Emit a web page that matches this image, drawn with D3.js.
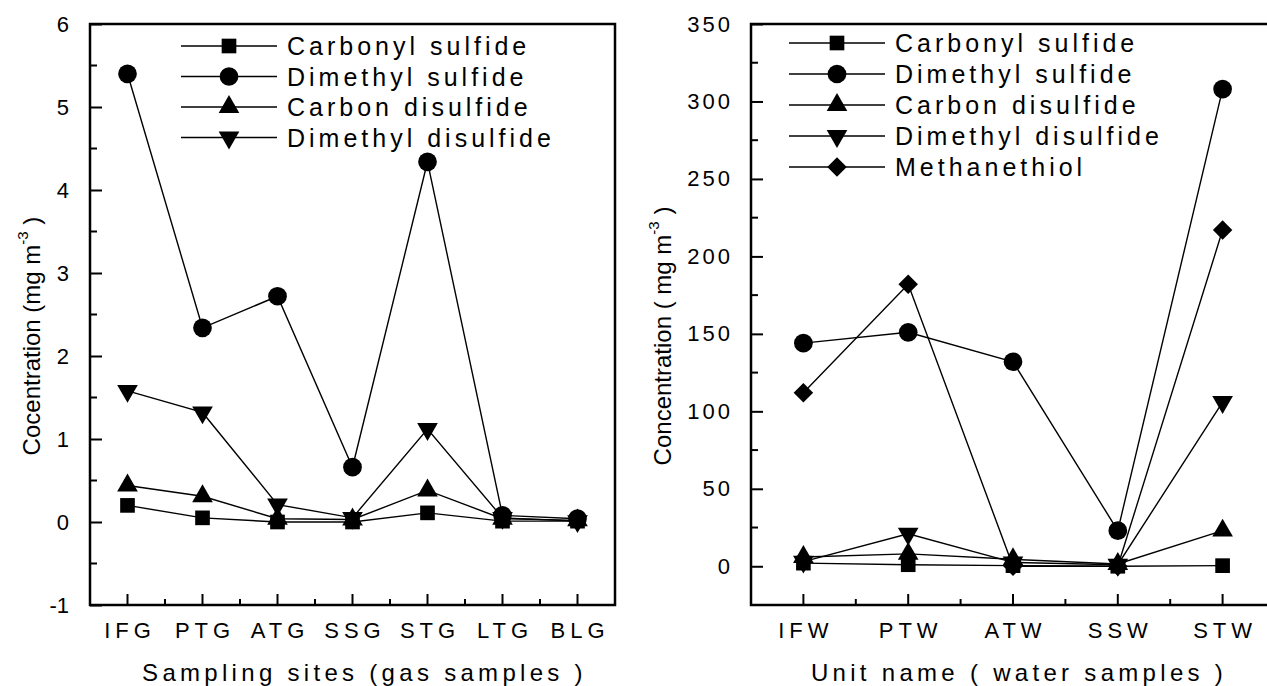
<!DOCTYPE html>
<html>
<head>
<meta charset="utf-8">
<script src="https://cdn.jsdelivr.net/npm/d3@7"></script>
<style>
  body { margin: 0; background: #fff; }
  svg { display: block; }
  text { font-family: "Liberation Sans", Arial, sans-serif; fill: #000; }
</style>
</head>
<body>
<script>
// gas samples (left panel)
const gasSites = ["IFG", "PTG", "ATG", "SSG", "STG", "LTG", "BLG"];
const gasCOS  = [0.20, 0.05, 0.00, 0.00, 0.11, 0.01, 0.01];
const gasDMS  = [5.40, 2.34, 2.72, 0.66, 4.34, 0.08, 0.04];
const gasCS2  = [0.44, 0.31, 0.04, 0.03, 0.38, 0.04, 0.02];
const gasDMDS = [1.58, 1.32, 0.21, 0.05, 1.12, 0.05, 0.01];
const gasTicks = [-1, 0, 1, 2, 3, 4, 5, 6];

// water samples (right panel)
const waterUnits = ["IFW", "PTW", "ATW", "SSW", "STW"];
const waterCOS  = [2, 1, 0.4, 0, 0.4];
const waterDMS  = [144, 151, 132, 23, 308];
const waterCS2  = [6, 8, 4.5, 1.5, 23];
const waterDMDS = [3, 21, 2.5, 1, 106];
const waterMT   = [112, 182, 0, 0, 217];
const waterTicks = [0, 50, 100, 150, 200, 250, 300, 350];

const W = 1267, H = 686;
const svg = d3.select("body").append("svg")
    .attr("width", W)
    .attr("height", H);

const shapes = {
    square:   { type: d3.symbolSquare, size: 215, rot: 0 },
    circle:   { type: d3.symbolCircle, size: 275, rot: 0 },
    up:       { type: d3.symbolTriangle, size: 185, rot: 0 },
    down:     { type: d3.symbolTriangle, size: 185, rot: 180 },
    diamond:  { type: d3.symbolSquare, size: 190, rot: 45 }
}

function marker(g, shape, x, y) {
    const s = shapes[shape]
    g.append("path")
        .attr("d", d3.symbol().type(s.type).size(s.size)())
        .attr("transform", `translate(${x},${y}) rotate(${s.rot})`)
        .attr("fill", "#000");
}

function drawPanel(p) {
    const x = d3.scaleBand().domain(p.cats).range([p.left, p.right]).paddingInner(0).paddingOuter(0);
    const y = d3.scaleLinear().domain(p.yDomain).range([p.bottom, p.top]);
    const cx = c => x(c) + x.bandwidth() / 2;

    const g = svg.append("g");

    // minor ticks
    const yMinor = d3.range(p.yDomain[0], p.yDomain[1], p.minorStep).filter(v => !p.ticks.includes(v));
    g.selectAll(".ymin").data(yMinor).join("line")
        .attr("x1", p.left).attr("x2", p.left + 7)
        .attr("y1", d => y(d)).attr("y2", d => y(d))
        .attr("stroke", "#000").attr("stroke-width", 2);
    g.selectAll(".xmin").data(p.cats.slice(1)).join("line")
        .attr("x1", d => x(d)).attr("x2", d => x(d))
        .attr("y1", p.bottom).attr("y2", p.bottom - 6)
        .attr("stroke", "#000").attr("stroke-width", 2);

    // y axis
    const yAxis = d3.axisLeft(y).tickValues(p.ticks).tickSize(-12).tickPadding(21).tickFormat(d => String(d));
    const ya = g.append("g").attr("transform", `translate(${p.left},0)`).call(yAxis);
    ya.select(".domain").remove();
    ya.selectAll(".tick line").attr("stroke-width", 2);
    ya.selectAll(".tick text").style("font-size", "22px").style("letter-spacing", p.yLs + "px")
        .attr("dx", p.yLs + "px");

    // x axis
    const xAxis = d3.axisBottom(x).tickSize(-11).tickPadding(0);
    const xa = g.append("g").attr("transform", `translate(0,${p.bottom})`).call(xAxis);
    xa.select(".domain").remove();
    xa.selectAll(".tick line").attr("stroke-width", 2);
    xa.selectAll(".tick text").attr("y", 0).attr("dy", 0)
        .attr("transform", "translate(0,33)")
        .style("font-size", "22px").style("letter-spacing", "5px").attr("dx", "2.5px");

    // frame
    g.append("rect")
        .attr("x", p.left).attr("y", p.top)
        .attr("width", p.right - p.left).attr("height", p.bottom - p.top)
        .attr("fill", "none").attr("stroke", "#000").attr("stroke-width", 2.5);

    // series lines then markers
    const line = d3.line().x((d, i) => cx(p.cats[i])).y(d => y(d));
    p.series.forEach(s => {
        g.append("path").datum(s.values)
            .attr("d", line)
            .attr("fill", "none").attr("stroke", "#000").attr("stroke-width", 1.4);
    });
    p.series.forEach(s => {
        s.values.forEach((v, i) => marker(g, s.shape, cx(p.cats[i]), y(v)));
    });

    // legend
    p.series.forEach((s, i) => {
        const ly = p.legend.y + i * p.legend.dy;
        g.append("line")
            .attr("x1", p.legend.x).attr("x2", p.legend.x + 96)
            .attr("y1", ly).attr("y2", ly)
            .attr("stroke", "#000").attr("stroke-width", 1.4);
        marker(g, s.shape, p.legend.x + 48, ly);
        g.append("text")
            .attr("x", p.legend.x + 106).attr("y", ly + 9)
            .style("font-size", "25px").style("letter-spacing", "4px")
            .text(s.name);
    });

    // x title
    g.append("text")
        .attr("x", (p.left + p.right) / 2 + p.xTitleShift).attr("y", 681)
        .attr("text-anchor", "middle")
        .style("font-size", "24px").style("letter-spacing", "4.3px")
        .text(p.xTitle);

    // y title
    const yt = g.append("text")
        .attr("transform", `translate(${p.yTitleX},336) rotate(-90)`)
        .attr("text-anchor", "middle")
        .style("font-size", "24px");
    yt.append("tspan").text(p.yTitle[0]);
    yt.append("tspan").attr("dy", -12).style("font-size", "15px").text("-3");
    yt.append("tspan").attr("dy", 12).text(p.yTitle[1]);
}

drawPanel({
    cats: gasSites, left: 90, right: 615, top: 24, bottom: 605,
    yDomain: [-1, 6], ticks: gasTicks, minorStep: 0.5, yLs: 0,
    series: [
        { name: "Carbonyl sulfide", shape: "square", values: gasCOS },
        { name: "Dimethyl sulfide", shape: "circle", values: gasDMS },
        { name: "Carbon disulfide", shape: "up", values: gasCS2 },
        { name: "Dimethyl disulfide", shape: "down", values: gasDMDS }
    ],
    legend: { x: 181, y: 46, dy: 30.5 },
    xTitle: "Sampling sites (gas samples )", xTitleShift: 12,
    yTitle: ["Cocentration (mg m", " )"], yTitleX: 40
});

drawPanel({
    cats: waterUnits, left: 751, right: 1275, top: 24, bottom: 605,
    yDomain: [-25, 350], ticks: waterTicks, minorStep: 25, yLs: 3,
    series: [
        { name: "Carbonyl sulfide", shape: "square", values: waterCOS },
        { name: "Dimethyl sulfide", shape: "circle", values: waterDMS },
        { name: "Carbon disulfide", shape: "up", values: waterCS2 },
        { name: "Dimethyl disulfide", shape: "down", values: waterDMDS },
        { name: "Methanethiol", shape: "diamond", values: waterMT }
    ],
    legend: { x: 789, y: 43, dy: 31 },
    xTitle: "Unit name ( water samples )", xTitleShift: 6,
    yTitle: ["Concentration ( mg m", " )"], yTitleX: 671
});
</script>
</body>
</html>
